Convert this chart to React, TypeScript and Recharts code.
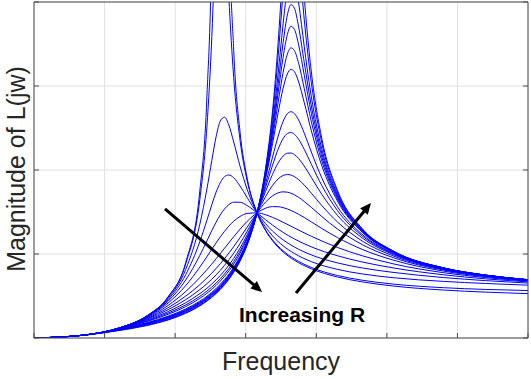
import { LineChart, Line, XAxis, YAxis, CartesianGrid, ReferenceLine } from "recharts";

// frequency samples (arbitrary units, 0..7) used by the curves
const freqA = [0, 0.7, 1.2, 1.6, 1.9, 2.15, 2.35, 2.45, 2.52, 2.58, 2.64, 2.7, 2.76, 2.83, 2.92, 3.02, 3.16, 3.28, 3.38, 3.53, 3.69, 3.93, 4.3, 4.65, 5.1, 5.8, 6.4, 7];
const freqB = [0, 0.7, 1.2, 1.6, 1.9, 2.15, 2.35, 2.45, 2.58, 2.7, 2.83, 2.92, 3.02, 3.16, 3.28, 3.38, 3.46, 3.53, 3.59, 3.64, 3.69, 3.75, 3.83, 3.93, 4.08, 4.3, 4.65, 5.1, 5.8, 6.4, 7];
const freqC = [0, 0.7, 1.2, 1.6, 1.9, 2.15, 2.35, 2.45, 2.58, 2.7, 2.83, 2.92, 3.02, 3.16, 3.28, 3.38, 3.46, 3.49, 3.53, 3.55, 3.59, 3.64, 3.69, 3.75, 3.79, 3.83, 3.87, 3.93, 4.08, 4.3, 4.65, 5.1, 5.8, 6.4, 7];

// |L(jw)| for each R, smallest R first
const magR1 = [0, 0.034, 0.118, 0.264, 0.49, 0.9, 1.753, 2.87, 4.798, 10.27, 161, 9.71, 5.169, 3.426, 2.45, 1.904, 1.49, 1.28, 1.157, 1.024, 0.925, 0.824, 0.726, 0.668, 0.618, 0.571, 0.546, 0.528];
const magR2 = [0, 0.034, 0.118, 0.264, 0.486, 0.882, 1.651, 2.511, 3.591, 4.947, 5.911, 5.251, 4.079, 3.098, 2.352, 1.875, 1.49, 1.288, 1.168, 1.038, 0.941, 0.84, 0.744, 0.688, 0.641, 0.599, 0.578, 0.565];
const magR3 = [0, 0.034, 0.118, 0.261, 0.472, 0.817, 1.354, 1.773, 2.116, 2.394, 2.583, 2.629, 2.536, 2.333, 2.044, 1.77, 1.49, 1.322, 1.216, 1.097, 1.006, 0.909, 0.817, 0.763, 0.717, 0.674, 0.649, 0.629];
const magR4 = [0, 0.034, 0.118, 0.258, 0.457, 0.754, 1.147, 1.401, 1.588, 1.735, 1.85, 1.921, 1.941, 1.908, 1.809, 1.672, 1.49, 1.362, 1.273, 1.168, 1.083, 0.989, 0.894, 0.834, 0.78, 0.72, 0.683, 0.654];
const magR5 = [0, 0.034, 0.117, 0.254, 0.438, 0.691, 0.984, 1.156, 1.279, 1.378, 1.466, 1.537, 1.587, 1.617, 1.616, 1.577, 1.49, 1.409, 1.344, 1.257, 1.179, 1.085, 0.979, 0.905, 0.833, 0.753, 0.704, 0.668];
const magR6 = [0, 0.034, 0.117, 0.248, 0.416, 0.624, 0.844, 0.968, 1.057, 1.132, 1.204, 1.271, 1.331, 1.391, 1.447, 1.483, 1.49, 1.468, 1.436, 1.378, 1.31, 1.211, 1.078, 0.979, 0.881, 0.778, 0.719, 0.677];
const magR7 = [0, 0.034, 0.116, 0.24, 0.387, 0.554, 0.72, 0.813, 0.943, 1.069, 1.205, 1.296, 1.388, 1.49, 1.545, 1.564, 1.563, 1.552, 1.536, 1.519, 1.499, 1.473, 1.434, 1.382, 1.303, 1.196, 1.055, 0.925, 0.797, 0.729, 0.683];
const magR8 = [0, 0.034, 0.114, 0.231, 0.36, 0.499, 0.635, 0.714, 0.827, 0.945, 1.088, 1.196, 1.319, 1.49, 1.616, 1.692, 1.728, 1.74, 1.736, 1.724, 1.705, 1.675, 1.625, 1.555, 1.445, 1.297, 1.112, 0.954, 0.809, 0.736, 0.687];
const magR9 = [0, 0.034, 0.113, 0.223, 0.337, 0.457, 0.576, 0.646, 0.751, 0.865, 1.01, 1.126, 1.27, 1.49, 1.68, 1.816, 1.895, 1.935, 1.946, 1.94, 1.921, 1.885, 1.82, 1.724, 1.575, 1.381, 1.155, 0.974, 0.816, 0.739, 0.689];
const magR10 = [0, 0.034, 0.111, 0.213, 0.314, 0.42, 0.528, 0.592, 0.692, 0.802, 0.948, 1.07, 1.228, 1.49, 1.743, 1.948, 2.085, 2.166, 2.2, 2.202, 2.183, 2.136, 2.046, 1.911, 1.708, 1.46, 1.192, 0.99, 0.822, 0.742, 0.69];
const magR11 = [0, 0.033, 0.109, 0.204, 0.297, 0.394, 0.496, 0.558, 0.654, 0.763, 0.91, 1.035, 1.201, 1.49, 1.79, 2.056, 2.249, 2.374, 2.434, 2.446, 2.425, 2.365, 2.245, 2.068, 1.812, 1.517, 1.216, 1.0, 0.825, 0.744, 0.691];
const magR12 = [0, 0.033, 0.108, 0.197, 0.282, 0.374, 0.472, 0.532, 0.626, 0.734, 0.881, 1.008, 1.18, 1.49, 1.83, 2.153, 2.404, 2.579, 2.67, 2.694, 2.672, 2.594, 2.438, 2.213, 1.902, 1.562, 1.234, 1.007, 0.828, 0.745, 0.692];
const magR13 = [0, 0.033, 0.104, 0.183, 0.26, 0.346, 0.439, 0.497, 0.589, 0.695, 0.843, 0.973, 1.152, 1.49, 1.89, 2.313, 2.683, 2.974, 3.143, 3.198, 3.171, 3.048, 2.801, 2.467, 2.046, 1.63, 1.26, 1.017, 0.831, 0.746, 0.693];
const magR14 = [0, 0.033, 0.102, 0.178, 0.252, 0.336, 0.427, 0.485, 0.576, 0.682, 0.83, 0.961, 1.142, 1.49, 1.913, 2.378, 2.807, 3.162, 3.379, 3.454, 3.422, 3.27, 2.968, 2.576, 2.103, 1.655, 1.269, 1.02, 0.832, 0.747, 0.693];
const magR15 = [0, 0.033, 0.1, 0.173, 0.244, 0.327, 0.418, 0.475, 0.566, 0.672, 0.82, 0.951, 1.135, 1.49, 1.933, 2.436, 2.921, 3.343, 3.612, 3.71, 3.674, 3.489, 3.127, 2.674, 2.152, 1.675, 1.276, 1.023, 0.833, 0.747, 0.693];
const magR16 = [0, 0.033, 0.098, 0.168, 0.238, 0.32, 0.41, 0.467, 0.558, 0.663, 0.812, 0.943, 1.128, 1.49, 1.949, 2.486, 3.025, 3.516, 3.844, 3.968, 3.926, 3.703, 3.277, 2.763, 2.195, 1.693, 1.282, 1.025, 0.834, 0.748, 0.693];
const magR17 = [0, 0.033, 0.096, 0.163, 0.231, 0.312, 0.402, 0.458, 0.549, 0.654, 0.802, 0.934, 1.121, 1.49, 1.968, 2.546, 3.154, 3.405, 3.74, 3.896, 4.156, 4.322, 4.271, 3.988, 3.733, 3.467, 3.212, 2.871, 2.243, 1.712, 1.288, 1.027, 0.834, 0.748, 0.694];
const magR18 = [0, 0.033, 0.092, 0.154, 0.221, 0.301, 0.39, 0.446, 0.536, 0.642, 0.79, 0.923, 1.112, 1.49, 1.994, 2.635, 3.36, 3.68, 4.131, 4.352, 4.739, 5.004, 4.933, 4.509, 4.147, 3.788, 3.459, 3.039, 2.315, 1.739, 1.297, 1.03, 0.835, 0.748, 0.694];
const magR19 = [0, 0.032, 0.088, 0.148, 0.214, 0.294, 0.382, 0.439, 0.528, 0.633, 0.782, 0.915, 1.105, 1.49, 2.013, 2.7, 3.521, 3.905, 4.47, 4.761, 5.297, 5.688, 5.59, 4.993, 4.511, 4.056, 3.657, 3.167, 2.367, 1.758, 1.303, 1.032, 0.836, 0.749, 0.694];

const xTicks = [0, 1, 2, 3, 4, 5, 6, 7];
const yTicks = [0, 1, 2, 3, 4];

// annotation arrows [start, end] in data units
const arrowLeft = [[1.856, 1.536], [3.231, 0.548]];
const arrowRight = [[3.713, 0.536], [4.775, 1.607]];

const series = [
  { key: "r1", freq: freqA, mag: magR1 },
  { key: "r2", freq: freqA, mag: magR2 },
  { key: "r3", freq: freqA, mag: magR3 },
  { key: "r4", freq: freqA, mag: magR4 },
  { key: "r5", freq: freqA, mag: magR5 },
  { key: "r6", freq: freqA, mag: magR6 },
  { key: "r7", freq: freqB, mag: magR7 },
  { key: "r8", freq: freqB, mag: magR8 },
  { key: "r9", freq: freqB, mag: magR9 },
  { key: "r10", freq: freqB, mag: magR10 },
  { key: "r11", freq: freqB, mag: magR11 },
  { key: "r12", freq: freqB, mag: magR12 },
  { key: "r13", freq: freqB, mag: magR13 },
  { key: "r14", freq: freqB, mag: magR14 },
  { key: "r15", freq: freqB, mag: magR15 },
  { key: "r16", freq: freqB, mag: magR16 },
  { key: "r17", freq: freqC, mag: magR17 },
  { key: "r18", freq: freqC, mag: magR18 },
  { key: "r19", freq: freqC, mag: magR19 },
].map((s) => ({ key: s.key, data: s.freq.map((f, i) => ({ f, m: s.mag[i] })) }));

const AXIS = "#4d4d4d";
const FONT = "'Liberation Sans', Arial, sans-serif";

const NoLabel = () => <g />;

const Arrow = (p: any) => {
  const { x1, y1, x2, y2 } = p;
  const dx = x2 - x1, dy = y2 - y1;
  const len = Math.hypot(dx, dy) || 1;
  const ux = dx / len, uy = dy / len;
  const hl = 11, hw = 5;
  const bx = x2 - ux * hl, by = y2 - uy * hl;
  return (
    <g>
      <line x1={x1} y1={y1} x2={bx + ux} y2={by + uy} stroke="#000" strokeWidth={3} />
      <polygon points={`${x2},${y2} ${bx - uy * hw},${by + ux * hw} ${bx + uy * hw},${by - ux * hw}`} fill="#000" />
    </g>
  );
};

export default function App() {
  return (
    <div style={{ position: "absolute", left: 0, top: 0, width: 531, height: 379, background: "#fff" }}>
      <LineChart width={531} height={379} margin={{ top: 1, right: 2, bottom: 40, left: 33 }}>
        <CartesianGrid stroke="#e0e0e0" strokeWidth={1} />
        <XAxis dataKey="f" type="number" domain={[0, 7]} ticks={xTicks} allowDataOverflow interval={0}
          height={1} tick={<NoLabel />} tickSize={-5} stroke={AXIS} />
        <XAxis xAxisId="top" orientation="top" type="number" domain={[0, 7]} ticks={xTicks} allowDataOverflow interval={0}
          height={1} tick={<NoLabel />} tickSize={-5} stroke={AXIS} />
        <YAxis type="number" domain={[0, 4]} ticks={yTicks} allowDataOverflow interval={0}
          width={1} tick={<NoLabel />} tickSize={-5} stroke={AXIS} />
        <YAxis yAxisId="right" orientation="right" type="number" domain={[0, 4]} ticks={yTicks} allowDataOverflow interval={0}
          width={1} tick={<NoLabel />} tickSize={-5} stroke={AXIS} />
        {series.map((s) => (
          <Line key={s.key} data={s.data} dataKey="m" type="monotone" dot={false}
            stroke="#0000ff" strokeWidth={1} isAnimationActive={false} />
        ))}
        <ReferenceLine segment={[{ x: arrowLeft[0][0], y: arrowLeft[0][1] }, { x: arrowLeft[1][0], y: arrowLeft[1][1] }]}
          shape={Arrow} />
        <ReferenceLine segment={[{ x: arrowRight[0][0], y: arrowRight[0][1] }, { x: arrowRight[1][0], y: arrowRight[1][1] }]}
          shape={Arrow} />
      </LineChart>
      <svg width={531} height={379} style={{ position: "absolute", left: 0, top: 0, pointerEvents: "none" }}>
        <text x={239} y={322} fontFamily={FONT} fontWeight="bold" fontSize={21} fill="#000">Increasing R</text>
        <text x={281} y={370} fontFamily={FONT} fontSize={25} fill="#262626" textAnchor="middle">Frequency</text>
        <text transform="translate(25,169) rotate(-90)" fontFamily={FONT} fontSize={25} fill="#262626" textAnchor="middle">
          Magnitude of L(jw)
        </text>
      </svg>
    </div>
  );
}
